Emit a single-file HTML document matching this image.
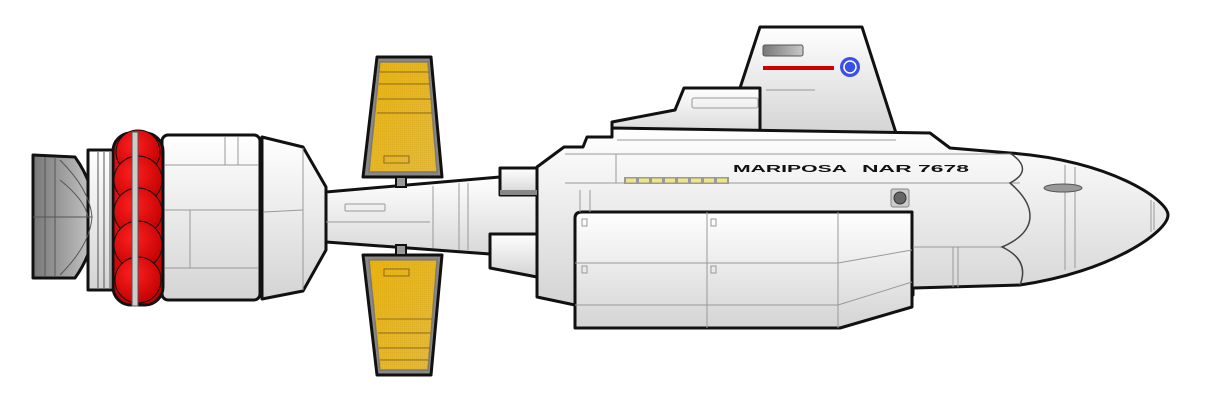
<!DOCTYPE html>
<html><head><meta charset="utf-8"><style>html,body{margin:0;padding:0;background:#fff;width:1206px;height:402px;overflow:hidden}</style></head><body>
<svg width="1206" height="402" viewBox="0 0 1206 402" xmlns="http://www.w3.org/2000/svg">
<defs>
<linearGradient id="g" x1="0" y1="0" x2="0" y2="1"><stop offset="0" stop-color="#ffffff"/><stop offset="1" stop-color="#d4d4d4"/></linearGradient>
<linearGradient id="gd" x1="0" y1="0" x2="1" y2="0"><stop offset="0" stop-color="#777"/><stop offset="1" stop-color="#c8c8c8"/></linearGradient>
<radialGradient id="rd" cx="0.4" cy="0.35" r="0.7"><stop offset="0" stop-color="#ff2020"/><stop offset="1" stop-color="#c00000"/></radialGradient>
<linearGradient id="y" x1="0" y1="0" x2="1" y2="1"><stop offset="0" stop-color="#f2b800"/><stop offset="1" stop-color="#e8c040"/></linearGradient>
<pattern id="dots" width="4" height="4" patternUnits="userSpaceOnUse"><rect x="0" y="0" width="3" height="3" fill="none" stroke="#c89a20" stroke-width="0.4"/></pattern>
</defs>
<g stroke="#111" stroke-width="3" stroke-linejoin="round">
<path d="M33,155 L75,157 Q95,185 95,217 Q95,250 75,278 L33,278 Z" fill="url(#gd)"/>
<rect x="88" y="150" width="28" height="140" fill="url(#g)"/>
<rect x="162" y="135" width="98" height="165" rx="6" fill="url(#g)"/>
<path d="M262,137 L303,147 L326,187 L326,250 L303,291 L262,299 Z" fill="url(#g)"/>
<path d="M326,192 L500,177 L537,177 L537,262 L490,254 L326,242 Z" fill="url(#g)"/>
<path d="M377,57 L431,57 L442,177 L363,177 Z" fill="#888"/>
<path d="M363,255 L442,255 L431,375 L377,375 Z" fill="#888"/>
<rect x="500" y="168" width="37" height="27" fill="url(#g)"/>
<path d="M490,234 L537,234 L537,277 L490,268 Z" fill="url(#g)"/>
<path d="M740,88 L760,27 L862,27 L896,133 L740,133 Z" fill="url(#g)"/>
<path d="M612,122 L675,110 L684,88 L760,88 L760,140 L612,140 Z" fill="url(#g)"/>
<path d="M537,167 L564,147 L583,147 L587,137 L612,137 L612,128 L930,133 L950,148 L1010,153 C1110,160 1168,200 1168,215 C1168,232 1110,272 1020,285 L913,288 L913,295 L575,295 L575,305 L537,297 Z" fill="url(#g)"/>
<path d="M575,218 Q575,212 582,212 L912,212 L912,307 L840,328 L575,328 Z" fill="url(#g)"/>
</g>
<g stroke="#555" stroke-width="1" fill="none">
<line x1="45" y1="157" x2="45" y2="277"/><line x1="55" y1="157" x2="55" y2="277"/>
<path d="M60,160 Q90,190 92,217 Q90,245 60,275"/><path d="M60,180 Q85,200 88,217"/>
<line x1="33" y1="217" x2="92" y2="217"/>
<line x1="98" y1="152" x2="98" y2="288"/><line x1="104" y1="152" x2="104" y2="288"/><line x1="110" y1="152" x2="110" y2="288"/>
</g>
<g stroke="#111" stroke-width="1">
<rect x="113" y="133" width="50" height="172" rx="18" fill="url(#rd)" stroke-width="3"/>
<circle cx="138" cy="152" r="22" fill="url(#rd)"/>
<circle cx="138" cy="180" r="24" fill="url(#rd)"/>
<circle cx="138" cy="212" r="24" fill="url(#rd)"/>
<circle cx="138" cy="245" r="24" fill="url(#rd)"/>
<circle cx="138" cy="280" r="23" fill="url(#rd)"/>
<rect x="132" y="132" width="6" height="174" fill="#ccc" stroke="#555"/>
</g>
<g stroke="#999" stroke-width="1" fill="none">
<line x1="165" y1="165" x2="258" y2="165"/><line x1="165" y1="210" x2="258" y2="210"/><line x1="165" y1="268" x2="258" y2="268"/>
<line x1="190" y1="210" x2="190" y2="268"/><line x1="225" y1="137" x2="225" y2="165"/><line x1="238" y1="137" x2="238" y2="165"/>
<line x1="264" y1="212" x2="303" y2="210"/><line x1="303" y1="148" x2="303" y2="290"/>
<line x1="326" y1="222" x2="430" y2="222"/><line x1="433" y1="186" x2="433" y2="248"/>
<rect x="345" y="204" width="40" height="7" rx="1"/>
<line x1="459" y1="183" x2="459" y2="250"/><line x1="468" y1="183" x2="468" y2="250"/>
<line x1="565" y1="154" x2="1010" y2="154"/><line x1="565" y1="183" x2="1020" y2="183"/>
<line x1="616" y1="154" x2="616" y2="183"/>
<line x1="580" y1="190" x2="580" y2="212"/><line x1="590" y1="190" x2="590" y2="212"/>
<line x1="617" y1="140" x2="896" y2="140"/>
<line x1="766" y1="90" x2="815" y2="90"/>
<rect x="692" y="98" width="66" height="10" rx="2"/>
<line x1="707" y1="212" x2="707" y2="328"/><line x1="838" y1="212" x2="838" y2="328"/>
<line x1="575" y1="263" x2="838" y2="263"/><line x1="575" y1="305" x2="838" y2="305"/>
<line x1="838" y1="263" x2="912" y2="250"/><line x1="838" y1="305" x2="912" y2="282"/>
<rect x="582" y="219" width="5" height="7"/><rect x="711" y="219" width="5" height="7"/>
<rect x="582" y="266" width="5" height="7"/><rect x="711" y="266" width="5" height="7"/>
<line x1="1065" y1="165" x2="1065" y2="270"/><line x1="1075" y1="167" x2="1075" y2="268"/>
<line x1="1151" y1="200" x2="1151" y2="232"/><line x1="1154" y1="202" x2="1154" y2="230"/>
<line x1="953" y1="247" x2="953" y2="287"/><line x1="958" y1="247" x2="958" y2="287"/>
<line x1="913" y1="247" x2="1005" y2="247"/>
</g>
<g stroke="#444" stroke-width="1.5" fill="none">
<path d="M1010,153 Q1035,170 1010,183 Q1030,200 1030,216 Q1030,235 1002,247 Q1030,260 1020,285"/>
</g>
<path d="M380,62 L428,62 L437,172 L369,172 Z" fill="url(#y)" stroke="#777" stroke-width="1.5"/>
<path d="M380,62 L428,62 L437,172 L369,172 Z" fill="url(#dots)"/>
<path d="M369,260 L437,260 L428,370 L380,370 Z" fill="url(#y)" stroke="#777" stroke-width="1.5"/>
<path d="M369,260 L437,260 L428,370 L380,370 Z" fill="url(#dots)"/>
<g stroke="#8a6a20" stroke-width="1" fill="none">
<line x1="380" y1="72" x2="429" y2="72"/><line x1="379" y1="84" x2="430" y2="84"/><line x1="378" y1="99" x2="431" y2="99"/><line x1="377" y1="113" x2="432" y2="113"/>
<rect x="384" y="156" width="25" height="7"/>
<line x1="377" y1="319" x2="432" y2="319"/><line x1="378" y1="333" x2="431" y2="333"/><line x1="379" y1="348" x2="430" y2="348"/><line x1="380" y1="360" x2="429" y2="360"/>
<rect x="384" y="269" width="25" height="7"/>
</g>
<rect x="396" y="177" width="10" height="10" fill="#999" stroke="#111" stroke-width="2"/>
<rect x="396" y="245" width="10" height="10" fill="#999" stroke="#111" stroke-width="2"/>
<rect x="500" y="190" width="37" height="5" fill="#888"/>
<rect x="763" y="45" width="40" height="11" rx="2" fill="url(#gd)" stroke="#555"/>
<rect x="763" y="66" width="71" height="4" fill="#c00"/>
<circle cx="850" cy="67" r="10" fill="#3a50e8"/><circle cx="850" cy="67" r="6" fill="none" stroke="#fff" stroke-width="1.5"/>
<rect x="624" y="177" width="105" height="7" fill="#999"/>
<g fill="#eee680"><rect x="626" y="178.5" width="10" height="4"/><rect x="639" y="178.5" width="10" height="4"/><rect x="652" y="178.5" width="10" height="4"/><rect x="665" y="178.5" width="10" height="4"/><rect x="678" y="178.5" width="10" height="4"/><rect x="691" y="178.5" width="10" height="4"/><rect x="704" y="178.5" width="10" height="4"/><rect x="717" y="178.5" width="10" height="4"/></g>
<rect x="891" y="189" width="18" height="18" rx="2" fill="#ccc" stroke="#888"/><circle cx="900" cy="198" r="6" fill="#666" stroke="#333"/>
<ellipse cx="1063" cy="188" rx="19" ry="4" fill="#999" stroke="#555"/>
<text x="733" y="172" font-family="Liberation Sans, sans-serif" font-weight="bold" font-size="10.5" fill="#111" textLength="114" lengthAdjust="spacingAndGlyphs">MARIPOSA</text>
<text x="862" y="172" font-family="Liberation Sans, sans-serif" font-weight="bold" font-size="10.5" fill="#111" textLength="107" lengthAdjust="spacingAndGlyphs">NAR 7678</text>
</svg>
</body></html>
